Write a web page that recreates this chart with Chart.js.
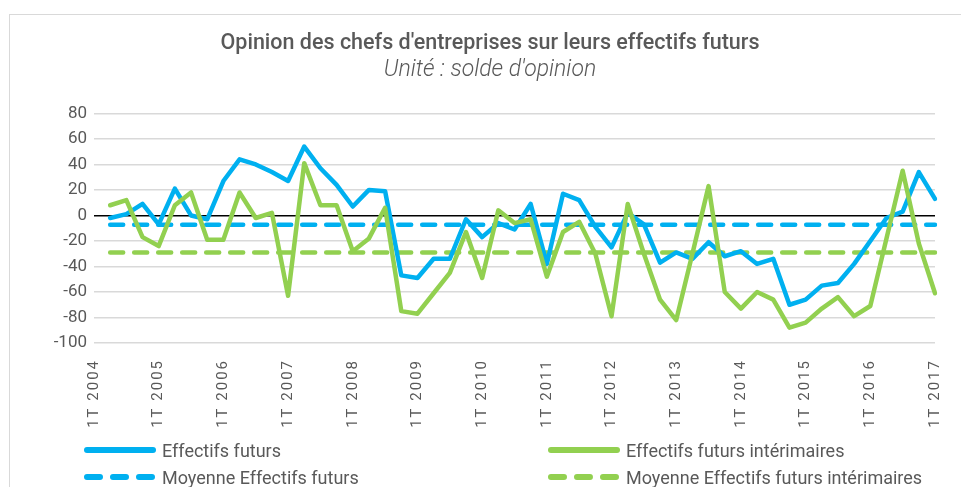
<!DOCTYPE html>
<html>
<head>
<meta charset="utf-8">
<script src="https://cdn.jsdelivr.net/npm/chart.js@4.4.1/dist/chart.umd.min.js"></script>
<style>
  body { margin: 0; background: #fff; font-family: Roboto, sans-serif; }
  #wrap { position: relative; width: 961px; height: 487px; overflow: hidden; }
  #frame { position: absolute; left: 9px; top: 14px; width: 960px; height: 480px; border: 1px solid #d9d9d9; }
  #chart { position: absolute; left: 0; top: 0; }
  .leg { position: absolute; height: 22px; display: flex; align-items: center; color: #595959; font-size: 18px; white-space: nowrap; }
  .leg svg { margin-right: 3px; }
</style>
</head>
<body>
<div id="wrap">
  <div id="frame"></div>
  <canvas id="chart" width="961" height="487"></canvas>
  <div class="leg" style="left:81px;top:439px"><svg width="78" height="10"><line x1="6" y1="5" x2="72" y2="5" stroke="#00b0f0" stroke-width="6" stroke-linecap="round"/></svg>Effectifs futurs</div>
  <div class="leg" style="left:545px;top:439px"><svg width="78" height="10"><line x1="6" y1="5" x2="72" y2="5" stroke="#92d050" stroke-width="6" stroke-linecap="round"/></svg>Effectifs futurs intérimaires</div>
  <div class="leg" style="left:81px;top:466px"><svg width="78" height="10"><line x1="6" y1="5" x2="72" y2="5" stroke="#00b0f0" stroke-width="6" stroke-linecap="round" stroke-dasharray="13,13"/></svg>Moyenne Effectifs futurs</div>
  <div class="leg" style="left:545px;top:466px"><svg width="78" height="10"><line x1="6" y1="5" x2="72" y2="5" stroke="#92d050" stroke-width="6" stroke-linecap="round" stroke-dasharray="13,13"/></svg>Moyenne Effectifs futurs intérimaires</div>
</div>
<script>
// Data
const years = ["2004","2005","2006","2007","2008","2009","2010","2011","2012","2013","2014","2015","2016","2017"];
const quarterNames = ["1T","2T","3T","4T"];

// soldes d'opinion, 1T 2004 -> 1T 2017 (1T 2004 vide)
const effectifsFuturs = [null, -2, 1, 9, -7, 21, 0, -3, 27, 44, 40, 34, 27, 54, 37, 24, 7, 20, 19, -47, -49, -34, -34, -3, -17, -6, -11, 9, -38, 17, 12, -9, -25, 2, -7, -37, -29, -34, -21, -32, -28, -38, -34, -70, -66, -55, -53, -38, -20, -2, 3, 34, 13];
const effectifsInterim = [null, 8, 12, -17, -24, 8, 18, -19, -19, 18, -2, 2, -63, 41, 8, 8, -28, -18, 6, -75, -77, -61, -45, -13, -49, 4, -6, -3, -48, -13, -5, -30, -79, 9, -30, -66, -82, -30, 23, -60, -73, -60, -66, -88, -84, -73, -64, -79, -71, -18, 35, -22, -61];
const moyenneEffectifs = -7.3;
const moyenneInterim = -29;

const labels = [];
years.forEach(y => quarterNames.forEach(q => labels.push(q + " " + y)));
labels.length = effectifsFuturs.length;

const meanLine = (m) => labels.map((l, i) => i === 0 ? null : m);

const BLUE = "#00b0f0";
const GREEN = "#92d050";

Chart.defaults.font.family = "Roboto";
Chart.defaults.color = "#595959";

// letter spacing for the rotated quarter labels
const spacedLabels = {
  id: "spacedLabels",
  beforeDraw(chart) {
    const sc = chart.scales.x;
    if (sc._spaced) return;
    const draw = sc.drawLabels;
    sc.drawLabels = function (area) {
      this.ctx.save();
      this.ctx.letterSpacing = "2px";
      draw.call(this, area);
      this.ctx.restore();
    };
    sc._spaced = true;
  }
};

new Chart(document.getElementById("chart"), {
  type: "line",
  data: {
    labels,
    datasets: [
      { label: "Effectifs futurs", data: effectifsFuturs, borderColor: BLUE, borderWidth: 4.5, borderJoinStyle: "round", borderCapStyle: "round", pointRadius: 0, order: 2 },
      { label: "Effectifs futurs intérimaires", data: effectifsInterim, borderColor: GREEN, borderWidth: 4.5, borderJoinStyle: "round", borderCapStyle: "round", pointRadius: 0, order: 1 },
      { label: "Moyenne Effectifs futurs", data: meanLine(moyenneEffectifs), borderColor: BLUE, borderWidth: 4.5, borderDash: [13, 11], borderCapStyle: "round", pointRadius: 0, order: 4 },
      { label: "Moyenne Effectifs futurs intérimaires", data: meanLine(moyenneInterim), borderColor: GREEN, borderWidth: 4.5, borderDash: [13, 11], borderCapStyle: "round", pointRadius: 0, order: 3 }
    ]
  },
  options: {
    responsive: false,
    animation: false,
    devicePixelRatio: 1,
    layout: { padding: { left: 40, right: 21, top: 0, bottom: 54 } },
    plugins: {
      legend: { display: false },
      tooltip: { enabled: false },
      title: {
        display: true,
        text: "Opinion des chefs d'entreprises sur leurs effectifs futurs",
        font: { size: 21.5, weight: 500 },
        color: "#595959",
        padding: { top: 31, bottom: 0 }
      },
      subtitle: {
        display: true,
        text: "Unité : solde d'opinion",
        font: { size: 23, style: "italic", weight: 300 },
        color: "#595959",
        padding: { top: 0, bottom: 29 }
      }
    },
    scales: {
      y: {
        min: -100,
        max: 80,
        ticks: { stepSize: 20, font: { size: 17 }, color: "#595959", padding: 7 },
        grid: {
          color: c => c.tick && c.tick.value === 0 ? "#000000" : "#d9d9d9",
          lineWidth: 1.5,
          drawTicks: false
        },
        border: { display: false },
        afterFit: s => { s.width = 54; }
      },
      x: {
        offset: false,
        ticks: {
          autoSkip: false,
          minRotation: 90,
          maxRotation: 90,
          font: { size: 15 },
          color: "#595959",
          padding: 8,
          callback: (v, i) => i % 4 === 0 ? labels[i] : ""
        },
        grid: { display: false },
        border: { display: false },
        afterFit: s => { s.height = 90; }
      }
    }
  },
  plugins: [spacedLabels]
});
</script>
</body>
</html>
